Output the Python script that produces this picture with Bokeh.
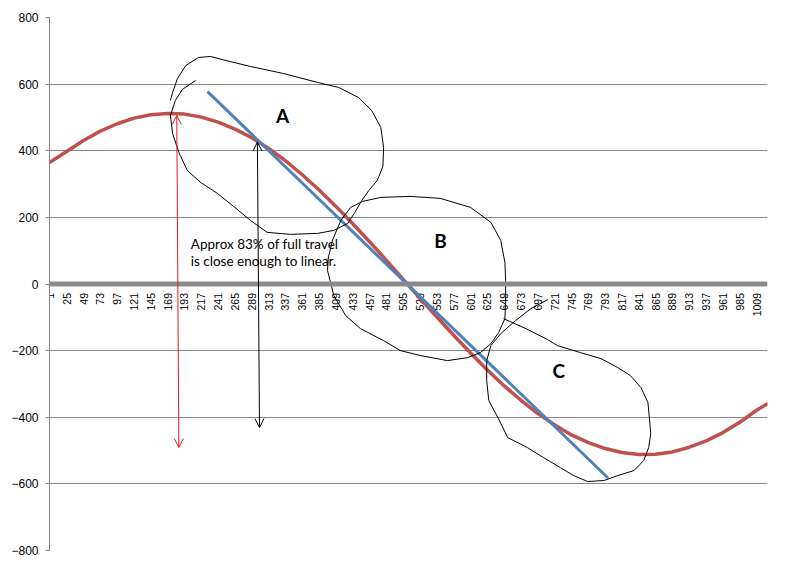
import math
from bokeh.plotting import figure
from bokeh.models import FixedTicker, Span, Arrow, OpenHead
from bokeh.core.properties import value
from bokeh.embed import file_html
from bokeh.resources import INLINE

# ---------------- data ----------------
category_ticks = [1, 25, 49, 73, 97, 121, 145, 169, 193, 217, 241, 265, 289, 313, 337,
                  361, 385, 409, 433, 457, 481, 505, 529, 553, 577, 601, 625, 649, 673,
                  697, 721, 745, 769, 793, 817, 841, 865, 889, 913, 937, 961, 985, 1009]
category_labels = [str(t) for t in category_ticks]
n_categories = 1024

red_x = [1, 25, 49, 73, 97, 121, 145, 169, 193, 217, 241, 265, 289, 313, 337,
         361, 385, 409, 433, 457, 481, 505, 529, 553, 577, 601, 625, 649, 673,
         697, 721, 745, 769, 793, 817, 841, 865, 889, 913, 937, 961, 985, 1009, 1024]
red_values = [365, 398, 431, 459, 481, 498, 508, 512, 510, 501, 486, 465, 439, 407, 370,
              328, 282, 233, 181, 127, 71, 14, -43, -99, -154, -207, -258, -306, -349,
              -389, -423, -453, -476, -494, -506, -512, -511, -504, -490, -471, -446, -415, -379, -360]

blue_x = [227, 796]
blue_values = [575, -580]

y_ticks = [-800, -600, -400, -200, 0, 200, 400, 600, 800]

# hand-drawn annotation loops (category, value)
loop_a_x = [209, 190, 180, 173, 176, 185, 197, 216, 240, 263, 287, 311, 344, 383, 406, 426,
            436, 446, 456, 468, 476, 477, 473, 460, 441, 413, 383, 334, 287, 252, 230, 213,
            195, 183, 176, 173]
loop_a_y = [611, 584, 551, 506, 452, 395, 341, 305, 272, 233, 191, 155, 149, 152, 161, 182,
            215, 251, 281, 311, 353, 410, 470, 521, 560, 590, 605, 632, 653, 671, 683, 680,
            656, 617, 575, 551]
loop_b_x = [397, 406, 423, 444, 477, 501, 530, 568, 597, 615, 630, 641, 650, 651, 651, 650,
            644, 630, 601, 558, 515, 473, 447, 430, 416, 404, 398, 397]
loop_b_y = [41, -35, -95, -134, -170, -200, -215, -230, -221, -206, -179, -146, -104, -50,
            11, 65, 131, 185, 230, 257, 263, 260, 248, 230, 191, 131, 77, 41]
loop_c_x = [711, 687, 665, 644, 630, 624, 624, 627, 640, 654, 682, 705, 729, 748, 768, 791,
            811, 834, 848, 855, 858, 856, 854, 844, 829, 811, 787, 758, 725, 711, 680, 648]
loop_c_y = [-47, -74, -110, -149, -185, -230, -290, -350, -401, -461, -491, -521, -551, -575,
            -593, -590, -575, -560, -530, -491, -449, -401, -356, -311, -275, -251, -224,
            -206, -185, -167, -134, -104]

red_arrow_x = [182, 185]
red_arrow_y = [506, -491]
black_arrow_x = [297, 300]
black_arrow_y = [426, -431]

note_lines = ["Approx 83% of full travel", "is close enough to linear."]
note_x = [202, 202]
note_y = [143, 92]
region_labels = ["A", "B", "C"]
region_x = [333, 558, 727]
region_y = [506, 131, -260]

# ---------------- figure ----------------
p = figure(width=777, height=562, x_range=(0.5, n_categories + 0.5), y_range=(-800, 800),
           output_backend="svg", toolbar_location=None, x_axis_location=None,
           min_border_left=49, min_border_right=10, min_border_top=17, min_border_bottom=12)
p.outline_line_color = None
p.background_fill_color = "white"
p.border_fill_color = "white"
p.xgrid.visible = False

p.yaxis.ticker = FixedTicker(ticks=y_ticks)
p.ygrid.ticker = FixedTicker(ticks=y_ticks)
p.ygrid.grid_line_color = "#868686"
p.ygrid.grid_line_width = 1
p.yaxis.axis_line_color = "#868686"
p.yaxis.major_tick_line_color = "#868686"
p.yaxis.major_tick_out = 4
p.yaxis.major_tick_in = 0
p.yaxis.minor_tick_out = 0
p.yaxis.minor_tick_in = 0
p.yaxis.major_label_standoff = 7
p.yaxis.major_label_text_font = "Liberation Sans"
p.yaxis.major_label_text_font_size = "12px"
p.yaxis.major_label_text_color = "#000000"

# horizontal category axis at zero
p.add_layout(Span(location=0, dimension="width", line_color="#8A8A8A", line_width=5))
p.text(x=category_ticks, y=[0] * len(category_ticks), text=category_labels,
       angle=math.pi / 2, text_align="right", text_baseline="middle", y_offset=9,
       text_font=value("Liberation Sans"), text_font_size="10.5px", text_color="#000000")

# series
p.line(red_x, red_values, line_color="#C0504D", line_width=3.5, line_join="round", line_cap="round")
p.line(blue_x, blue_values, line_color="#4F81BD", line_width=3, line_cap="round")

# hand-drawn loops
for lx, ly in [(loop_a_x, loop_a_y), (loop_b_x, loop_b_y), (loop_c_x, loop_c_y)]:
    p.line(lx, ly, line_color="#000000", line_width=1, line_join="round")

# arrows
p.add_layout(Arrow(x_start=red_arrow_x[0], y_start=red_arrow_y[0], x_end=red_arrow_x[1], y_end=red_arrow_y[1],
                   line_color="#E01B24", line_width=1,
                   start=OpenHead(size=9, line_color="#E01B24", line_width=1),
                   end=OpenHead(size=9, line_color="#E01B24", line_width=1)))
p.add_layout(Arrow(x_start=black_arrow_x[0], y_start=black_arrow_y[0], x_end=black_arrow_x[1], y_end=black_arrow_y[1],
                   line_color="#000000", line_width=1,
                   start=OpenHead(size=9, line_color="#000000", line_width=1),
                   end=OpenHead(size=9, line_color="#000000", line_width=1)))

# texts
p.text(x=note_x, y=note_y, text=note_lines, text_align="left", text_baseline="top",
       text_font=value("Lato"), text_font_size="13.5px", text_color="#000000")
p.text(x=region_x, y=region_y, text=region_labels, text_align="center", text_baseline="middle",
       text_font=value("Lato"), text_font_size="19px", text_font_style="bold", text_color="#000000")

open("out.html", "w").write(file_html(p, INLINE))
